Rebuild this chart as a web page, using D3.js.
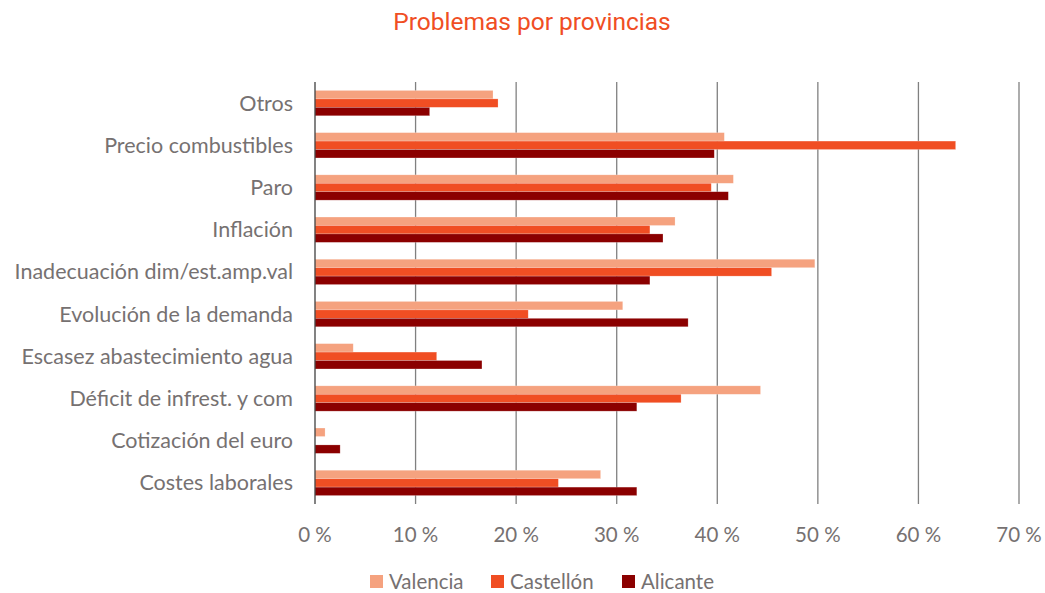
<!DOCTYPE html>
<html>
<head>
<meta charset="utf-8">
<script src="https://cdn.jsdelivr.net/npm/d3@7"></script>
<style>
body { margin: 0; background: #fff; }
</style>
</head>
<body>
<svg id="chart" width="1045" height="593"></svg>
<script>
// categories, top to bottom
var categories = ['Otros', 'Precio combustibles', 'Paro', 'Inflación', 'Inadecuación dim/est.amp.val',
	'Evolución de la demanda', 'Escasez abastecimiento agua', 'Déficit de infrest. y com',
	'Cotización del euro', 'Costes laborales'];
var seriesNames = ['Valencia', 'Castellón', 'Alicante'];
var valencia  = [17.7, 40.7, 41.6, 35.8, 49.7, 30.6, 3.8, 44.3, 1.0, 28.4];
var castellon = [18.2, 63.7, 39.4, 33.3, 45.4, 21.2, 12.1, 36.4, 0, 24.2];
var alicante  = [11.4, 39.7, 41.1, 34.6, 33.3, 37.1, 16.6, 32.0, 2.5, 32.0];
var ticks = [0, 10, 20, 30, 40, 50, 60, 70];

var colors = ['#f5a27f', '#f04e23', '#8b0000'];
var textColor = '#767171';
var labelFont = 'Lato, "Open Sans", sans-serif';

var svg = d3.select('#chart');
var plotLeft = 315, plotRight = 1019, plotTop = 82, plotBottom = 504;

var x = d3.scaleLinear().domain([0, 70]).range([plotLeft, plotRight]);
var y = d3.scaleBand().domain(categories).range([plotTop, plotBottom]).paddingInner(0.4).paddingOuter(0.2);
var ySub = d3.scaleBand().domain(seriesNames).range([0, y.bandwidth()]);

//title
svg.append('text')
	.attr('x', 532)
	.attr('y', 30)
	.attr('text-anchor', 'middle')
	.attr('font-family', 'Roboto, "Liberation Sans", sans-serif')
	.attr('font-size', 24.5)
	.attr('fill', '#f04e23')
	.text('Problemas por provincias');

//gridlines
svg.append('g')
	.selectAll('line')
	.data(ticks.slice(1))
	.enter()
	.append('line')
	.attr('x1', function(d){ return x(d); })
	.attr('x2', function(d){ return x(d); })
	.attr('y1', plotTop)
	.attr('y2', plotBottom)
	.attr('stroke', '#808080')
	.attr('stroke-width', 1.3);

//bars
var rows = categories.map(function(c, i){
	return [valencia[i], castellon[i], alicante[i]];
});
var groups = svg.append('g')
	.selectAll('g')
	.data(rows)
	.enter()
	.append('g')
	.attr('transform', function(d, i){ return 'translate(0,' + y(categories[i]) + ')'; });

groups.selectAll('rect')
	.data(function(d){ return d; })
	.enter()
	.append('rect')
	.attr('x', x(0))
	.attr('y', function(d, j){ return ySub(seriesNames[j]); })
	.attr('width', function(d){ return x(d) - x(0); })
	.attr('height', ySub.bandwidth())
	.attr('fill', function(d, j){ return colors[j]; })
	.attr('stroke', '#fff')
	.attr('stroke-opacity', 0.35)
	.attr('stroke-width', 0.6);

//zero axis
svg.append('line')
	.attr('x1', x(0)).attr('x2', x(0))
	.attr('y1', plotTop).attr('y2', plotBottom)
	.attr('stroke', '#404040')
	.attr('stroke-width', 1.3);

//category labels
svg.append('g')
	.selectAll('text')
	.data(categories)
	.enter()
	.append('text')
	.attr('x', 293)
	.attr('y', function(d){ return y(d) + y.bandwidth() / 2; })
	.attr('dy', '0.35em')
	.attr('text-anchor', 'end')
	.attr('font-family', labelFont)
	.attr('font-size', 21.5)
	.attr('fill', textColor)
	.text(function(d){ return d; });

//tick labels
svg.append('g')
	.selectAll('text')
	.data(ticks)
	.enter()
	.append('text')
	.attr('x', function(d){ return x(d); })
	.attr('y', 542)
	.attr('text-anchor', 'middle')
	.attr('font-family', labelFont)
	.attr('font-size', 20.5)
	.attr('fill', textColor)
	.text(function(d){ return d + ' %'; });

//legend
var legendX = [370, 491, 622];
var legend = svg.append('g')
	.selectAll('g')
	.data(seriesNames)
	.enter()
	.append('g')
	.attr('transform', function(d, i){ return 'translate(' + legendX[i] + ',589)'; });
legend.append('rect')
	.attr('x', 0).attr('y', -14)
	.attr('width', 13).attr('height', 13)
	.attr('fill', function(d, i){ return colors[i]; });
legend.append('text')
	.attr('x', 19)
	.attr('y', 0)
	.attr('font-family', labelFont)
	.attr('font-size', 20.5)
	.attr('fill', textColor)
	.text(function(d){ return d; });
</script>
</body>
</html>
